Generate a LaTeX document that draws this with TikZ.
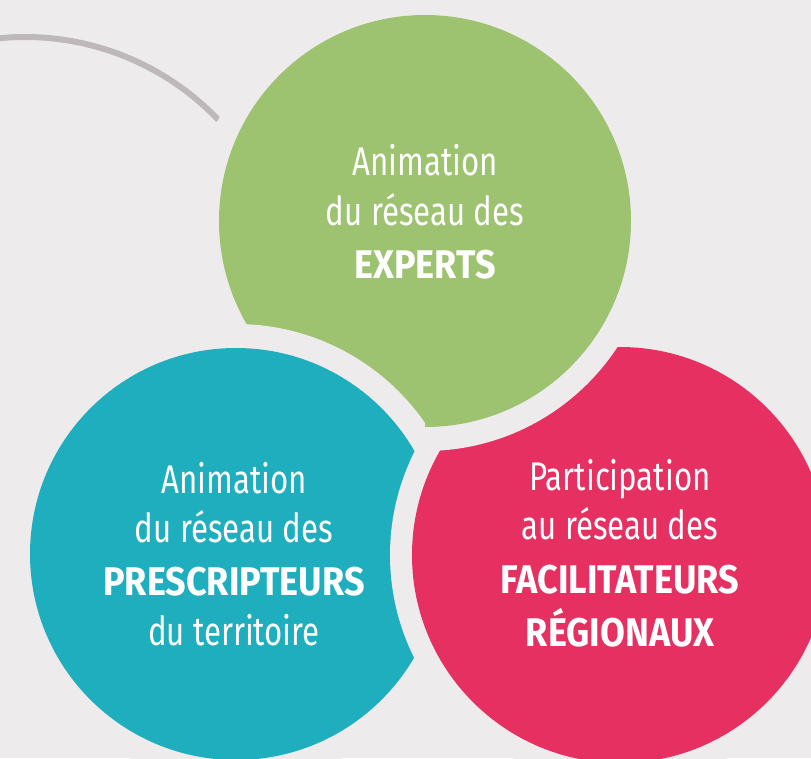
\documentclass[tikz,border=0pt]{standalone}
\usepackage{fontspec}
\setmainfont{Fira Sans}[FakeStretch=0.78]
\newfontfamily\capsfont{Fira Sans}[FakeStretch=0.9]
\usetikzlibrary{positioning}
\definecolor{bgcol}{RGB}{238,235,236}
\definecolor{color1}{RGB}{157,194,112}
\definecolor{color2}{RGB}{30,174,189}
\definecolor{color3}{RGB}{231,48,98}
\definecolor{color4}{RGB}{190,184,187}

\begin{document}
\begin{tikzpicture}[x=1pt, y=-1pt,
    ring/.style={circle, fill=bgcol, minimum size=460pt, inner sep=0pt},
    bubble/.style={circle, minimum size=412pt, inner sep=0pt},
    thin/.style={text=white, anchor=base, font=\fontsize{40}{48}\selectfont},
    heavy/.style={text=white, anchor=base, font=\capsfont\bfseries\fontsize{40}{48}\selectfont}
]

% fond
\fill[bgcol] (0,0) rectangle (811,758);
\useasboundingbox (0,0) rectangle (811,758);

% arc gris
\coordinate (arc_centre) at (25,304);
\draw[color4, line width=6pt] ([shift={(-97:267)}]arc_centre) arc[start angle=-97, end angle=-43.6, radius=267];

% cercles : vert, puis bleu, puis rose
\node[ring] (green_ring) at (425,221) {};
\node[bubble, fill=color1] (green) at (425,221) {};
\node[ring] (teal_ring) at (236,554) {};
\node[bubble, fill=color2] (teal) at (236,554) {};
\node[ring] (pink_ring) at (620,555) {};
\node[bubble, minimum size=416pt, fill=color3] (pink) at (620,555) {};

% le vert repasse sur le rose
\begin{scope}
\clip (425,-10) rectangle (820,455);
\node[ring] (green_ring2) at (425,221) {};
\node[bubble, fill=color1] (green2) at (425,221) {};
\end{scope}

% textes vert
\node[thin] (green_line1) at (425,175) {Animation};
\node[thin] (green_line2) at (425,225) {du réseau des};
\node[heavy] (green_line3) at (425,278) {EXPERTS};

% textes bleu
\node[thin] (teal_line1) at (234,493) {Animation};
\node[thin] (teal_line2) at (234,542) {du réseau des};
\node[heavy] (teal_line3) at (234,595) {PRESCRIPTEURS};
\node[thin] (teal_line4) at (234,645) {du territoire};

% textes rose
\node[thin] (pink_line1) at (620,490) {Participation};
\node[thin] (pink_line2) at (620,539) {au réseau des};
\node[heavy] (pink_line3) at (620,593) {FACILITATEURS};
\node[heavy] (pink_line4) at (620,646) {RÉGIONAUX};

\end{tikzpicture}
\end{document}
